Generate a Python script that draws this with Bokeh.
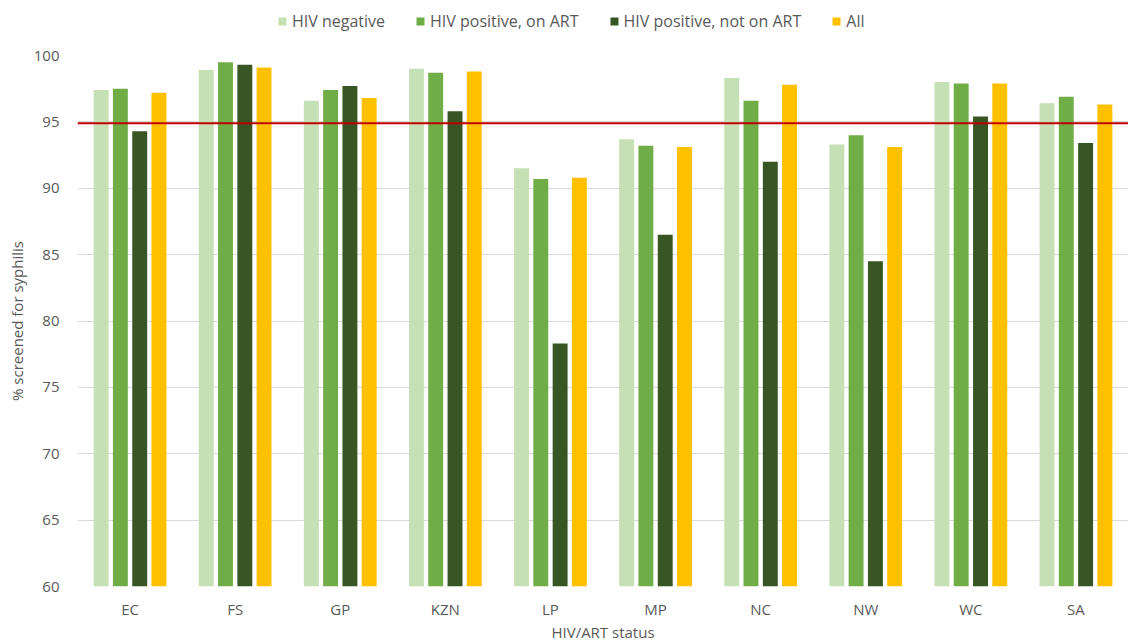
from bokeh.plotting import figure
from bokeh.layouts import column
from bokeh.models import FactorRange, Range1d, Legend, LegendItem, Span, FixedTicker, ColumnDataSource
from bokeh.transform import dodge
from bokeh.embed import file_html
from bokeh.resources import INLINE

categories = ["EC", "FS", "GP", "KZN", "LP", "MP", "NC", "NW", "WC", "SA"]
hiv_negative = [97.4, 98.9, 96.6, 99.0, 91.5, 93.7, 98.3, 93.3, 98.0, 96.4]
hiv_pos_art = [97.5, 99.5, 97.4, 98.7, 90.7, 93.2, 96.6, 94.0, 97.9, 96.9]
hiv_pos_no_art = [94.3, 99.3, 97.7, 95.8, 78.3, 86.5, 92.0, 84.5, 95.4, 93.4]
all_women = [97.2, 99.1, 96.8, 98.8, 90.8, 93.1, 97.8, 93.1, 97.9, 96.3]
target = 94.9
series_names = ["HIV negative", "HIV positive, on ART", "HIV positive, not on ART", "All"]
series_keys = ["a", "b", "c", "d"]
colors = ["#C5E0B4", "#70AD47", "#375623", "#FFC000"]

src = ColumnDataSource(dict(cat=categories, a=hiv_negative, b=hiv_pos_art,
                            c=hiv_pos_no_art, d=all_women))

FONT = "Open Sans"
TXT = "#595959"
W = 1128
offsets = [-0.275, -0.092, 0.092, 0.275]

# legend strip: its bar renderers are hidden, only the legend swatches show
lg = figure(width=W, height=43, x_range=FactorRange(*categories), y_range=Range1d(0, 1),
            output_backend="svg", toolbar_location=None,
            x_axis_location=None, y_axis_location=None,
            min_border_left=0, min_border_right=0, min_border_top=0, min_border_bottom=0)
lg.outline_line_color = None
lg.grid.visible = False
items = []
for key, off, col, name in zip(series_keys, offsets, colors, series_names):
    r = lg.vbar(x=dodge("cat", off, range=lg.x_range), top=key, bottom=60, width=0.142,
                source=src, fill_color=col, line_color=None)
    r.visible = False
    items.append(LegendItem(label=name, renderers=[r]))
legend = Legend(items=items, orientation="horizontal", location=(200, 11),
                label_text_font=FONT, label_text_font_size="16px", label_text_color=TXT,
                glyph_width=10, glyph_height=10, spacing=30, label_standoff=5,
                label_height=20, background_fill_alpha=0, border_line_color=None,
                inactive_fill_alpha=0, padding=0, margin=0)
lg.add_layout(legend, "center")

# main chart
p = figure(x_range=FactorRange(*categories, range_padding=0.0), y_range=Range1d(60, 100),
           width=W, height=601, output_backend="svg", toolbar_location=None,
           min_border_left=77, min_border_right=0, min_border_top=12, min_border_bottom=50)
p.outline_line_color = None

for key, off, col in zip(series_keys, offsets, colors):
    p.vbar(x=dodge("cat", off, range=p.x_range), top=key, bottom=60, width=0.142,
           source=src, fill_color=col, line_color=None)

p.add_layout(Span(location=target, dimension="width", line_color="#C00000", line_width=2))

p.yaxis.ticker = FixedTicker(ticks=[60, 65, 70, 75, 80, 85, 90, 95, 100])
p.ygrid.grid_line_color = "#D9D9D9"
p.ygrid.grid_line_width = 1
p.xgrid.grid_line_color = None

for ax in [p.xaxis[0], p.yaxis[0]]:
    ax.axis_line_color = None
    ax.major_tick_line_color = None
    ax.minor_tick_line_color = None
    ax.major_tick_out = 0
    ax.major_tick_in = 0
    ax.minor_tick_out = 0
    ax.minor_tick_in = 0
    ax.major_label_text_font = FONT
    ax.major_label_text_font_size = "15px"
    ax.major_label_text_color = TXT
    ax.axis_label_text_font = FONT
    ax.axis_label_text_font_size = "15px"
    ax.axis_label_text_color = TXT
    ax.axis_label_text_font_style = "normal"

p.xaxis.axis_label = "HIV/ART status"
p.yaxis.axis_label = "% screened for syphilis"
p.xaxis.major_label_standoff = 12
p.xaxis.axis_label_standoff = 0
p.yaxis.major_label_standoff = 18
p.yaxis.axis_label_standoff = 4

open("out.html", "w").write(file_html(column(lg, p, spacing=0), INLINE))
